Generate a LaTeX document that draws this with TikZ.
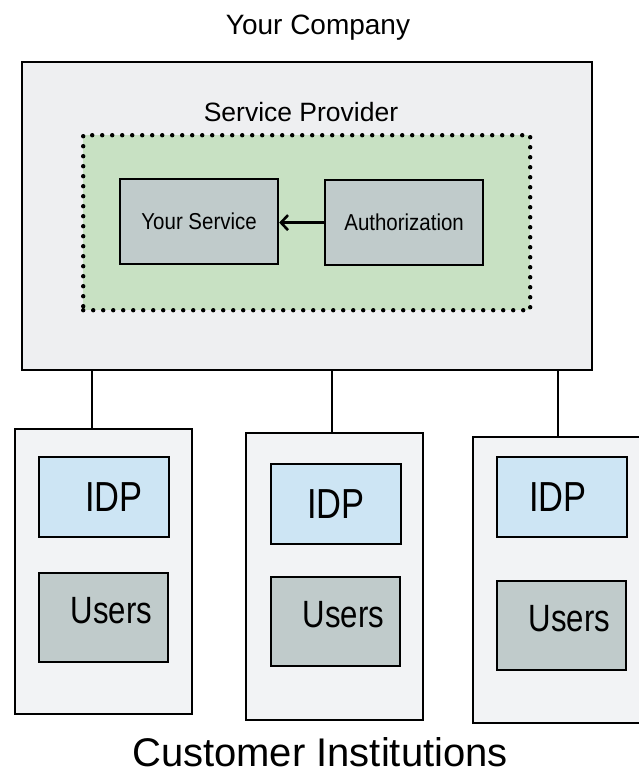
\documentclass[tikz,border=0pt]{standalone}
\usepackage{fontspec}
\setmainfont{Liberation Sans}
\newfontfamily\boxfont{Liberation Sans}[FakeStretch=0.89]
\newfontfamily\narrowfont{Liberation Sans}[FakeStretch=0.82]
\usetikzlibrary{arrows.meta}
\definecolor{panel}{HTML}{EEEFF1}
\definecolor{instpanel}{HTML}{F2F3F5}
\definecolor{zone}{HTML}{C8E1C3}
\definecolor{unit}{HTML}{C0CBCB}
\definecolor{idpblue}{HTML}{CDE5F4}
\newcommand{\fs}[1]{\fontsize{#1}{#1}\selectfont}
\begin{document}
\begin{tikzpicture}[x=1pt,y=-1pt,
  frame/.style={draw=black, line width=2.2pt, inner sep=0pt, anchor=north west},
  company/.style={frame, fill=panel},
  institution/.style={frame, fill=instpanel},
  trustzone/.style={draw=black, fill=zone, line width=4.4pt, line cap=round,
    dash pattern=on 0pt off 10pt, inner sep=0pt, anchor=north west},
  unitbox/.style={frame, fill=unit, font=\boxfont\fs{23}},
  idpbox/.style={frame, fill=idpblue, minimum width=130pt, minimum height=80pt},
  userbox/.style={frame, fill=unit, minimum width=129pt, minimum height=89pt},
  idplabel/.style={font=\narrowfont\fs{42}},
  userlabel/.style={font=\narrowfont\fs{38}, xshift=8pt, yshift=7pt},
  link/.style={draw=black, line width=2.2pt},
  flow/.style={draw=black, line width=2.6pt,
    -{Straight Barb[length=7pt,width=15pt,line width=2.6pt]}}
]
\useasboundingbox (0,0) rectangle (638,780);
\fill[white] (0,0) rectangle (638,780);

% company side
\node[font=\fs{28}, anchor=base] (companytitle) at (318,34) {Your Company};
\node[company, minimum width=570pt, minimum height=308pt] (company) at (21,61) {};
\node[font=\fs{26.5}, anchor=base] (sptitle) at (301,121) {Service Provider};
\node[trustzone, minimum width=447pt, minimum height=175pt] (zone) at (81,133) {};
\node[unitbox, minimum width=158pt, minimum height=85pt] (service) at (119,178) {Your Service};
\node[unitbox, minimum width=158pt, minimum height=85pt] (authz) at (324,179) {Authorization};
\draw[flow] (authz.west) -- (authz.west -| service.east);

% customer institutions
\node[institution, minimum width=177pt, minimum height=285pt] (inst1) at (14,428) {};
\node[institution, minimum width=177pt, minimum height=287pt] (inst2) at (245,432) {};
\node[institution, minimum width=175pt, minimum height=286pt] (inst3) at (472,436) {};

\node[idpbox, label={[idplabel, xshift=10pt]center:IDP}] (idp1) at (38,456) {};
\node[idpbox, label={[idplabel]center:IDP}] (idp2) at (270,463) {};
\node[idpbox, label={[idplabel, xshift=-4pt]center:IDP}] (idp3) at (496,456) {};

\node[userbox, label={[userlabel]center:Users}] (users1) at (38,572) {};
\node[userbox, label={[userlabel]center:Users}] (users2) at (270,576) {};
\node[userbox, label={[userlabel]center:Users}] (users3) at (496,580) {};

% links from the company to each institution
\coordinate (j1) at (92,428);
\coordinate (j2) at (332,432);
\coordinate (j3) at (558,436);
\draw[link] (company.south -| j1) -- (j1);
\draw[link] (company.south -| j2) -- (j2);
\draw[link] (company.south -| j3) -- (j3);

\node[font=\fs{40}, anchor=base] (custtitle) at (320,766) {Customer Institutions};
\end{tikzpicture}
\end{document}
